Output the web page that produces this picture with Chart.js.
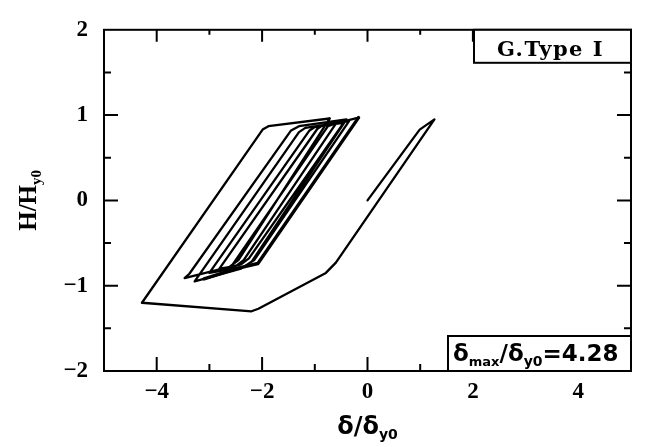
<!DOCTYPE html>
<html>
<head>
<meta charset="utf-8">
<script src="https://cdn.jsdelivr.net/npm/chart.js@4.4.0/dist/chart.umd.min.js"></script>
<style>
  html,body{margin:0;padding:0;background:#fff;}
  #wrap{width:649px;height:447px;}
</style>
</head>
<body>
<div id="wrap"><canvas id="c" width="649" height="447"></canvas></div>
<script>
// ---------- data ----------
// first loading and the big excursion to delta_max
const outerX = [0, 0.99, 1.27, -0.60, -0.79, -2.07, -2.20, -4.28, -1.99, -1.88, -0.72];
const outerY = [0, 0.83, 0.95, -0.73, -0.85, -1.27, -1.30, -1.20, 0.83, 0.87, 0.96];
// smaller cycles that follow
const innerX = [-0.72, -2.45, -2.62, -3.47, -3.38, -1.45, -1.30, -0.40,
                -2.20, -2.40, -3.28, -1.30, -1.18, -0.35,
                -2.15, -2.35, -3.00, -1.10, -1.00, -0.60,
                -2.35, -2.50, -2.81, -0.95, -0.85, -0.45,
                -2.25, -2.40, -2.59, -0.75, -0.62, -0.17];
const innerY = [0.96, -0.70, -0.78, -0.91, -0.86, 0.82, 0.87, 0.95,
                -0.72, -0.80, -0.95, 0.80, 0.85, 0.93,
                -0.70, -0.78, -0.85, 0.82, 0.86, 0.90,
                -0.70, -0.77, -0.80, 0.84, 0.88, 0.91,
                -0.68, -0.75, -0.78, 0.87, 0.90, 0.97];
// last (heavy) unloading branch
const lastX = [-0.17, -2.08, -2.49, -3.10];
const lastY = [0.97, -0.74, -0.80, -0.92];

const xMajor = [-4, -2, 0, 2, 4];
const xMinor = [-3, -1, 1, 3];
const yMajor = [-2, -1, 0, 1, 2];
const yMinor = [-1.5, -0.5, 0.5, 1.5];

const typeLabel = "G.Type I";
const ratioValue = "4.28";

// ---------- helpers ----------
const pts = (xs, ys) => xs.map((x, i) => ({x, y: ys[i]}));
const minus = v => (v < 0 ? "\u2212" + Math.abs(v) : String(v));

function richText(ctx, x, y, parts){
  let cx = x;
  parts.forEach(p => {
    ctx.font = p.font;
    ctx.fillText(p.t, cx, y + (p.dy || 0));
    cx += ctx.measureText(p.t).width + (p.gap || 0);
  });
  return cx - x;
}
function richWidth(ctx, parts){
  let w = 0;
  parts.forEach(p => { ctx.font = p.font; w += ctx.measureText(p.t).width + (p.gap || 0); });
  return w;
}

// ---------- frame, inward ticks, labels, boxes ----------
const decor = {
  id: "decor",
  afterDraw(chart){
    const {ctx, chartArea: a, scales: {x, y}} = chart;
    ctx.save();
    ctx.strokeStyle = "#000";
    ctx.fillStyle = "#000";
    ctx.lineWidth = 2;
    ctx.strokeRect(a.left, a.top, a.right - a.left, a.bottom - a.top);

    ctx.beginPath();
    const tx = (v, len) => {
      const p = x.getPixelForValue(v);
      ctx.moveTo(p, a.bottom); ctx.lineTo(p, a.bottom - len);
      ctx.moveTo(p, a.top); ctx.lineTo(p, a.top + len - 2);
    };
    const ty = (v, len) => {
      const p = y.getPixelForValue(v);
      ctx.moveTo(a.left, p); ctx.lineTo(a.left + len, p);
      ctx.moveTo(a.right, p); ctx.lineTo(a.right - len, p);
    };
    xMajor.forEach(v => tx(v, 14));
    xMinor.forEach(v => tx(v, 7));
    yMajor.filter(v => v > -2 && v < 2).forEach(v => ty(v, 14));
    yMinor.forEach(v => ty(v, 7));
    ctx.stroke();

    // top-right box
    const b1 = {x: a.right - 157, y: a.top, w: 157, h: 33};
    ctx.fillStyle = "#fff";
    ctx.fillRect(b1.x, b1.y, b1.w, b1.h);
    ctx.strokeRect(b1.x, b1.y, b1.w, b1.h);
    ctx.fillStyle = "#000";
    ctx.font = "bold 21px 'DejaVu Serif'";
    ctx.textAlign = "center";
    ctx.textBaseline = "alphabetic";
    if ("letterSpacing" in ctx) ctx.letterSpacing = "1.5px";
    ctx.fillText(typeLabel, b1.x + b1.w / 2 - 2, b1.y + 26);
    if ("letterSpacing" in ctx) ctx.letterSpacing = "0px";

    // bottom-right box
    const b2 = {x: a.right - 183, y: a.bottom - 35, w: 183, h: 35};
    ctx.fillStyle = "#fff";
    ctx.fillRect(b2.x, b2.y, b2.w, b2.h);
    ctx.strokeRect(b2.x, b2.y, b2.w, b2.h);
    ctx.fillStyle = "#000";
    ctx.textAlign = "left";
    const big = "bold 23px 'DejaVu Sans'";
    const sub = "bold 13px 'DejaVu Sans'";
    richText(ctx, b2.x + 5, b2.y + 25, [
      {t: "\u03b4", font: big},
      {t: "max", font: sub, dy: 5},
      {t: "/", font: big},
      {t: "\u03b4", font: big},
      {t: "y0", font: "bold 14px 'DejaVu Sans'", dy: 5},
      {t: "=" + ratioValue, font: big}
    ]);

    // x title
    const xt = [
      {t: "\u03b4/\u03b4", font: "bold 24px 'DejaVu Sans'"},
      {t: "y0", font: "bold 14px 'DejaVu Sans'", dy: 5}
    ];
    const xw = richWidth(ctx, xt);
    richText(ctx, (a.left + a.right) / 2 - xw / 2, 434, xt);

    // y title (rotated)
    ctx.translate(36, (a.top + a.bottom) / 2);
    ctx.rotate(-Math.PI / 2);
    const yt = [
      {t: "H/H", font: "bold 25px 'Liberation Serif'"},
      {t: "y0", font: "bold 15px 'Liberation Serif'", dy: 5}
    ];
    const yw = richWidth(ctx, yt);
    richText(ctx, -yw / 2, 0, yt);
    ctx.restore();
  }
};

// ---------- chart ----------
const lineDs = (data, w) => ({
  data, showLine: true, fill: false, borderColor: "#000", borderWidth: w,
  pointRadius: 0, tension: 0, borderJoinStyle: "round", borderCapStyle: "round"
});

const tickFont = {family: "'Liberation Serif'", size: 23, weight: "bold"};

new Chart(document.getElementById("c"), {
  type: "scatter",
  data: {datasets: [
    lineDs(pts(outerX, outerY), 2.3),
    lineDs(pts(innerX, innerY), 2.3),
    lineDs(pts(lastX, lastY), 3.4)
  ]},
  options: {
    responsive: false,
    animation: false,
    layout: {padding: {top: 17, right: 18, left: 0, bottom: 0}},
    plugins: {legend: {display: false}, tooltip: {enabled: false}},
    scales: {
      x: {
        type: "linear", min: -5, max: 5,
        afterBuildTicks: s => { s.ticks = xMajor.map(v => ({value: v})); },
        afterFit: s => { s.height = 76; },
        grid: {display: false, drawTicks: false},
        border: {display: false},
        ticks: {color: "#000", font: tickFont, padding: 7, callback: v => minus(v), maxRotation: 0}
      },
      y: {
        type: "linear", min: -2, max: 2,
        afterBuildTicks: s => { s.ticks = yMajor.map(v => ({value: v})); },
        afterFit: s => { s.width = 104; },
        grid: {display: false, drawTicks: false},
        border: {display: false},
        ticks: {color: "#000", font: tickFont, padding: 16, callback: v => minus(v)}
      }
    }
  },
  plugins: [decor]
});
</script>
</body>
</html>
